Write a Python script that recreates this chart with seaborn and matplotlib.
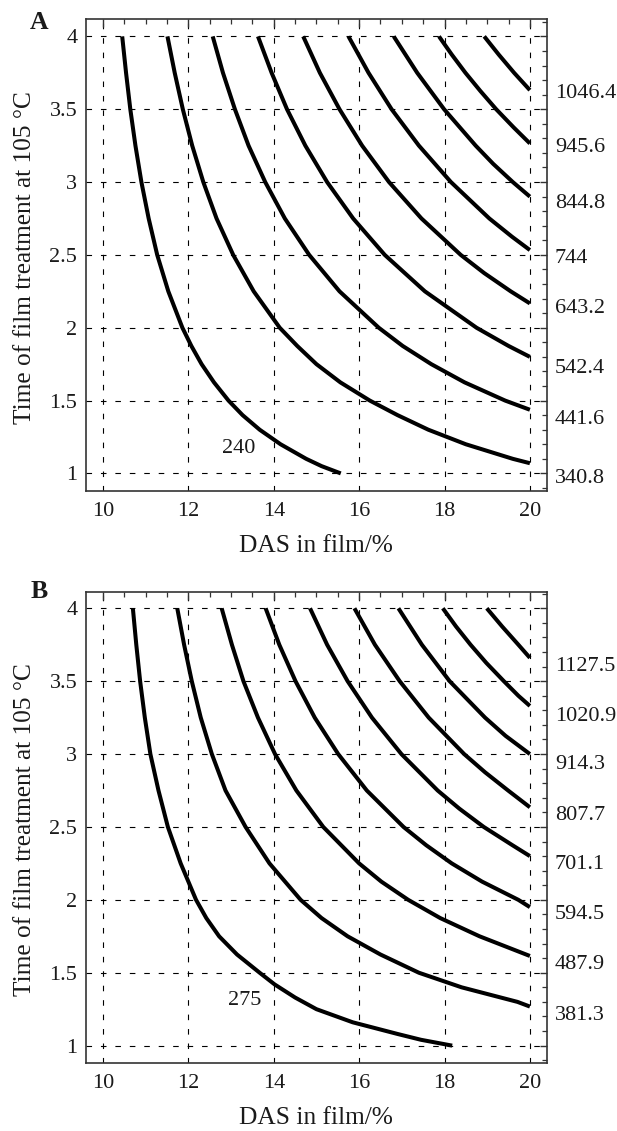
import numpy as np
import pandas as pd
import matplotlib
matplotlib.use("Agg")
import matplotlib.pyplot as plt
from matplotlib.ticker import MultipleLocator, FixedLocator, FixedFormatter
import seaborn as sns

# ---------------- data ----------------
x_ticks = [10, 12, 14, 16, 18, 20]
x_tick_labels = ["10", "12", "14", "16", "18", "20"]
y_ticks = [1, 1.5, 2, 2.5, 3, 3.5, 4]
y_tick_labels = ["1", "1.5", "2", "2.5", "3", "3.5", "4"]

# Panel A contour levels and polylines (DAS %, time h)
A_levels = [240, 340.8, 441.6, 542.4, 643.2, 744, 844.8, 945.6, 1046.4]
A_x = [
    [10.45, 10.54, 10.64, 10.76, 10.90, 11.07, 11.27, 11.53, 11.86, 12.07, 12.31,
     12.60, 12.94, 13.27, 13.67, 14.16, 14.76, 15.12, 15.57],
    [11.51, 11.68, 11.87, 12.09, 12.35, 12.66, 13.05, 13.53, 14.14, 14.55, 15.0,
     15.56, 16.25, 16.9, 17.62, 18.5, 19.6, 20.0],
    [12.57, 12.81, 13.09, 13.41, 13.80, 14.26, 14.83, 15.54, 16.46, 17.02, 17.69,
     18.47, 19.42, 20.0],
    [13.63, 13.95, 14.31, 14.74, 15.25, 15.86, 16.60, 17.54, 18.75, 19.50, 20.0],
    [14.69, 15.08, 15.54, 16.07, 16.70, 17.46, 18.38, 18.93, 19.55, 20.0],
    [15.75, 16.22, 16.76, 17.40, 18.15, 19.05, 19.58, 20.0],
    [16.81, 17.36, 17.99, 18.73, 19.14, 19.60, 20.0],
    [17.87, 18.17, 18.49, 18.84, 19.21, 19.62, 20.0],
    [18.93, 19.27, 19.63, 20.0],
]
A_y = [
    [4.0, 3.75, 3.5, 3.25, 3.0, 2.75, 2.5, 2.25, 2.0, 1.875, 1.75,
     1.625, 1.5, 1.4, 1.3, 1.2, 1.1, 1.05, 1.0],
    [4.0, 3.75, 3.5, 3.25, 3.0, 2.75, 2.5, 2.25, 2.0, 1.875, 1.75,
     1.625, 1.5, 1.4, 1.3, 1.2, 1.1, 1.07],
    [4.0, 3.75, 3.5, 3.25, 3.0, 2.75, 2.5, 2.25, 2.0, 1.875, 1.75,
     1.625, 1.5, 1.437],
    [4.0, 3.75, 3.5, 3.25, 3.0, 2.75, 2.5, 2.25, 2.0, 1.875, 1.80],
    [4.0, 3.75, 3.5, 3.25, 3.0, 2.75, 2.5, 2.375, 2.25, 2.167],
    [4.0, 3.75, 3.5, 3.25, 3.0, 2.75, 2.625, 2.533],
    [4.0, 3.75, 3.5, 3.25, 3.125, 3.0, 2.9],
    [4.0, 3.875, 3.75, 3.625, 3.5, 3.375, 3.265],
    [4.0, 3.875, 3.75, 3.631],
]
A_right_labels = ["340.8", "441.6", "542.4", "643.2", "744", "844.8", "945.6", "1046.4"]
A_right_label_y = [0.968, 1.373, 1.723, 2.129, 2.478, 2.856, 3.24, 3.61]
A_inline_label = "240"
A_inline_pos = (13.18, 1.17)

# Panel B contour levels and polylines
B_levels = [275, 381.3, 487.9, 594.5, 701.1, 807.7, 914.3, 1020.9, 1127.5]
B_x = [
    [10.70, 10.78, 10.87, 10.98, 11.11, 11.30, 11.52, 11.82, 12.18, 12.42, 12.72,
     13.14, 13.67, 14.02, 14.5, 15.0, 15.85, 16.9, 17.45, 18.18],
    [11.74, 11.90, 12.08, 12.29, 12.55, 12.87, 13.34, 13.9, 14.63, 15.12, 15.73,
     16.5, 17.4, 18.40, 19.71, 20.0],
    [12.78, 13.02, 13.29, 13.63, 14.03, 14.53, 15.16, 16.0, 16.52, 17.15, 17.90,
     18.82, 20.0],
    [13.81, 14.13, 14.51, 14.96, 15.51, 16.18, 17.04, 17.57, 18.17, 18.88, 19.73,
     20.0],
    [14.85, 15.25, 15.73, 16.30, 16.99, 17.84, 18.35, 18.92, 19.59, 20.0],
    [15.89, 16.37, 16.95, 17.63, 18.46, 18.95, 19.49, 20.0],
    [16.92, 17.47, 18.12, 18.95, 19.43, 20.0],
    [17.96, 18.27, 18.61, 18.98, 19.39, 19.73, 20.0],
    [18.99, 19.35, 19.73, 20.0],
]
B_y = [
    [4.0, 3.75, 3.5, 3.25, 3.0, 2.75, 2.5, 2.25, 2.0, 1.875, 1.75,
     1.625, 1.5, 1.42, 1.33, 1.25, 1.16, 1.08, 1.04, 1.0],
    [4.0, 3.75, 3.5, 3.25, 3.0, 2.75, 2.5, 2.25, 2.0, 1.875, 1.75,
     1.625, 1.5, 1.4, 1.3, 1.268],
    [4.0, 3.75, 3.5, 3.25, 3.0, 2.75, 2.5, 2.25, 2.125, 2.0, 1.875,
     1.75, 1.615],
    [4.0, 3.75, 3.5, 3.25, 3.0, 2.75, 2.5, 2.375, 2.25, 2.125, 2.0, 1.95],
    [4.0, 3.75, 3.5, 3.25, 3.0, 2.75, 2.625, 2.5, 2.375, 2.30],
    [4.0, 3.75, 3.5, 3.25, 3.0, 2.875, 2.75, 2.635],
    [4.0, 3.75, 3.5, 3.25, 3.125, 3.0],
    [4.0, 3.875, 3.75, 3.625, 3.5, 3.4, 3.33],
    [4.0, 3.875, 3.75, 3.66],
]
B_right_labels = ["381.3", "487.9", "594.5", "701.1", "807.7", "914.3", "1020.9", "1127.5"]
B_right_label_y = [1.21, 1.554, 1.897, 2.24, 2.578, 2.93, 3.255, 3.60]
B_inline_label = "275"
B_inline_pos = (13.33, 1.31)

x_label = "DAS in film/%"
y_label = "Time of film treatment at 105 °C"

# ---------------- style ----------------
sns.set_style("white")
plt.rcParams["font.family"] = ["Liberation Serif", "DejaVu Serif"]
TXT = "#1a1a1a"
SPINE = "#333333"

fig = plt.figure(figsize=(6.17, 11.31), dpi=100)
axA = fig.add_axes([0.1389, 0.5661, 0.7476, 0.4168])
axB = fig.add_axes([0.1389, 0.0604, 0.7476, 0.4166])


def make_df(levels, xs, ys):
    rows = []
    for lev, xx, yy in zip(levels, xs, ys):
        for i, (a, b) in enumerate(zip(xx, yy)):
            rows.append({"DAS": a, "time": b, "level": lev, "order": i})
    return pd.DataFrame(rows)


def draw_panel(ax, levels, xs, ys, rlabels, rlabel_y, ilabel, ipos, ylim):
    df = make_df(levels, xs, ys)
    sns.lineplot(data=df, x="DAS", y="time", units="level", estimator=None,
                 sort=False, color="black", linewidth=2.9, legend=False,
                 solid_capstyle="butt", solid_joinstyle="round", ax=ax, zorder=3)
    ax.set_xlim(9.595, 20.4)
    ax.set_ylim(*ylim)
    ax.xaxis.set_major_locator(FixedLocator(x_ticks))
    ax.xaxis.set_major_formatter(FixedFormatter(x_tick_labels))
    ax.xaxis.set_minor_locator(MultipleLocator(0.5))
    ax.yaxis.set_major_locator(FixedLocator(y_ticks))
    ax.yaxis.set_major_formatter(FixedFormatter(y_tick_labels))
    ax.yaxis.set_minor_locator(MultipleLocator(0.1))
    ax.tick_params(which="both", direction="in", top=True, right=True,
                   labeltop=False, labelright=False, colors=SPINE,
                   labelcolor=TXT, labelsize=16)
    ax.tick_params(which="major", length=5.4, width=1.0)
    ax.tick_params(which="minor", length=3.4, width=0.9)
    ax.tick_params(axis="x", which="major", pad=8)
    ax.tick_params(axis="y", which="major", pad=6)
    ax.grid(True, which="major", color="black", linewidth=0.8,
            linestyle=(0, (5, 8)))
    ax.set_axisbelow(True)
    for s in ax.spines.values():
        s.set_color(SPINE)
        s.set_linewidth(1.2)
        s.set_visible(True)
    ax.set_xlabel(x_label, fontsize=18.3, color=TXT)
    ax.set_ylabel(y_label, fontsize=18.3, color=TXT)
    ax.xaxis.set_label_coords(0.5, -0.118)
    ax.xaxis.label.set_va("center")
    ax.yaxis.set_label_coords(-0.132, 0.495)
    ax.yaxis.label.set_va("center")
    tr = ax.get_yaxis_transform()
    for lab, yy in zip(rlabels, rlabel_y):
        ax.text(1.017, yy, lab, transform=tr, ha="left", va="center",
                fontsize=16, color=TXT, clip_on=False)
    ax.text(ipos[0], ipos[1], ilabel, ha="center", va="center",
            fontsize=16, color=TXT)


draw_panel(axA, A_levels, A_x, A_y, A_right_labels, A_right_label_y,
           A_inline_label, A_inline_pos, (0.881, 4.117))
draw_panel(axB, B_levels, B_x, B_y, B_right_labels, B_right_label_y,
           B_inline_label, B_inline_pos, (0.883, 4.115))

fig.text(0.064, 0.9805, "A", fontsize=18.5, fontweight="bold", ha="center",
         va="center", color=TXT)
fig.text(0.063, 0.4766, "B", fontsize=18.5, fontweight="bold", ha="center",
         va="center", color=TXT)

fig.savefig("out.png", dpi=100)
